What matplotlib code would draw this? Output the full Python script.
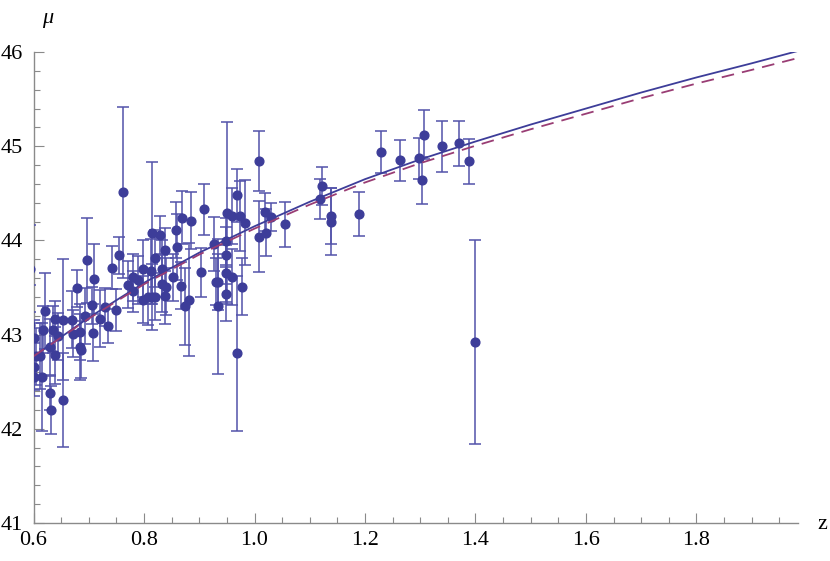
import matplotlib
matplotlib.use("Agg")
import matplotlib.pyplot as plt
from matplotlib.ticker import MultipleLocator, FormatStrFormatter

# supernova-like data: redshift, distance modulus, error
z = [0.600, 0.605, 0.600, 0.615, 0.600, 0.611, 0.618, 0.620, 0.629, 0.629,
     0.631, 0.636, 0.639, 0.639, 0.644, 0.653, 0.654, 0.669, 0.671, 0.678,
     0.684, 0.684, 0.686, 0.697, 0.693, 0.710, 0.708, 0.720, 0.705, 0.734,
     0.729, 0.742, 0.755, 0.749, 0.762, 0.771, 0.780, 0.780, 0.790, 0.798,
     0.798, 0.808, 0.814, 0.813, 0.814, 0.819, 0.820, 0.829, 0.832, 0.838,
     0.832, 0.839, 0.838, 0.853, 0.858, 0.859, 0.869, 0.885, 0.867, 0.874,
     0.881, 0.909, 0.904, 0.927, 0.930, 0.934, 0.934, 0.951, 0.960, 0.948,
     0.948, 0.948, 0.948, 0.960, 0.969, 0.974, 0.982, 0.977, 0.969, 1.009,
     1.009, 1.020, 1.019, 1.030, 1.056, 1.122, 1.119, 1.139, 1.139, 1.189,
     1.229, 1.264, 1.298, 1.306, 1.304, 1.339, 1.370, 1.389, 1.399,
     0.593, 0.593]
mu = [42.66, 42.77, 42.55, 42.55, 42.96, 42.77, 43.05, 43.25, 42.87, 42.38,
      42.20, 43.05, 43.17, 42.78, 42.98, 42.31, 43.16, 43.16, 43.01, 43.49,
      43.03, 42.87, 42.84, 43.79, 43.20, 43.59, 43.02, 43.17, 43.31, 43.09,
      43.29, 43.71, 43.84, 43.26, 44.51, 43.53, 43.61, 43.46, 43.58, 43.70,
      43.37, 43.40, 44.08, 43.67, 43.40, 43.40, 43.81, 44.06, 43.70, 43.90,
      43.54, 43.51, 43.41, 43.61, 44.11, 43.93, 44.24, 44.21, 43.52, 43.30,
      43.37, 44.33, 43.66, 43.96, 43.56, 43.56, 43.30, 44.29, 44.26, 43.99,
      43.84, 43.65, 43.43, 43.61, 44.48, 44.26, 44.19, 43.51, 42.80, 44.84,
      44.04, 44.08, 44.30, 44.25, 44.17, 44.58, 44.44, 44.26, 44.20, 44.28,
      44.94, 44.85, 44.87, 45.12, 44.64, 45.00, 45.03, 44.84, 42.92,
      43.70, 43.10]
err = [0.25, 0.30, 0.20, 0.57, 0.20, 0.35, 0.25, 0.40, 0.30, 0.18,
       0.25, 0.25, 0.19, 0.30, 0.25, 0.50, 0.64, 0.30, 0.25, 0.20,
       0.30, 0.35, 0.30, 0.45, 0.30, 0.37, 0.30, 0.30, 0.20, 0.18,
       0.20, 0.23, 0.20, 0.22, 0.91, 0.25, 0.25, 0.22, 0.25, 0.30,
       0.25, 0.30, 0.75, 0.35, 0.35, 0.25, 0.30, 0.20, 0.30, 0.23,
       0.30, 0.30, 0.30, 0.25, 0.30, 0.35, 0.28, 0.30, 0.25, 0.41,
       0.60, 0.27, 0.26, 0.29, 0.25, 0.30, 0.72, 0.97, 0.30, 0.25,
       0.30, 0.30, 0.29, 0.30, 0.28, 0.37, 0.45, 0.30, 0.82, 0.32,
       0.38, 0.25, 0.20, 0.15, 0.24, 0.20, 0.21, 0.30, 0.36, 0.23,
       0.22, 0.22, 0.22, 0.26, 0.25, 0.27, 0.24, 0.24, 1.08,
       0.46, 0.43]

# model curves
z_curve = [0.6, 0.7, 0.8, 0.9, 1.0, 1.1, 1.2, 1.3, 1.4, 1.5, 1.6, 1.7, 1.8, 1.9, 1.983]
mu_solid = [42.77, 43.18, 43.55, 43.87, 44.15, 44.41, 44.65, 44.86, 45.05, 45.23,
            45.40, 45.57, 45.73, 45.88, 46.01]
mu_dashed = [42.77, 43.17, 43.535, 43.85, 44.125, 44.38, 44.615, 44.82, 45.005, 45.18,
             45.345, 45.51, 45.665, 45.81, 45.935]

blue = '#3d3d99'
purple = '#993d74'
axis_gray = '#8a8a8a'

fig = plt.figure(figsize=(8.3, 5.61), dpi=100)
ax = fig.add_axes([0.0404, 0.0677, 0.9205, 0.8396])

ax.errorbar(z, mu, yerr=err, fmt='o', color=blue, ecolor='#5252aa',
            elinewidth=1.1, capsize=4, capthick=1.1, markersize=6.3, zorder=3)
ax.plot(z_curve, mu_solid, color=blue, lw=1.3, zorder=4)
ax.plot(z_curve, mu_dashed, color=purple, lw=1.3, dashes=(7, 4.5), zorder=4)

ax.set_xlim(0.6, 1.983)
ax.set_ylim(41, 46)

for side in ['top', 'right']:
    ax.spines[side].set_visible(False)
for side in ['left', 'bottom']:
    ax.spines[side].set_color(axis_gray)
    ax.spines[side].set_linewidth(1.0)

ax.xaxis.set_major_locator(MultipleLocator(0.2))
ax.xaxis.set_minor_locator(MultipleLocator(0.05))
ax.yaxis.set_major_locator(MultipleLocator(1))
ax.yaxis.set_minor_locator(MultipleLocator(0.2))
ax.xaxis.set_major_formatter(FormatStrFormatter('%.1f'))
ax.tick_params(which='both', direction='in', color=axis_gray, width=0.8,
               labelsize=16, labelcolor='black')
ax.tick_params(which='major', length=7)
ax.tick_params(which='minor', length=4)
ax.tick_params(axis='y', pad=8)
ax.tick_params(axis='x', pad=6)
for lab in ax.get_xticklabels() + ax.get_yticklabels():
    lab.set_fontfamily('Liberation Serif')

ax.text(0.018, 1.072, 'μ', transform=ax.transAxes, fontsize=16,
        fontfamily='Liberation Serif', style='italic', ha='center', va='center')
ax.text(1.032, -0.004, 'z', transform=ax.transAxes, fontsize=16,
        fontfamily='Liberation Serif', ha='center', va='center')

fig.savefig('out.png', dpi=100)
